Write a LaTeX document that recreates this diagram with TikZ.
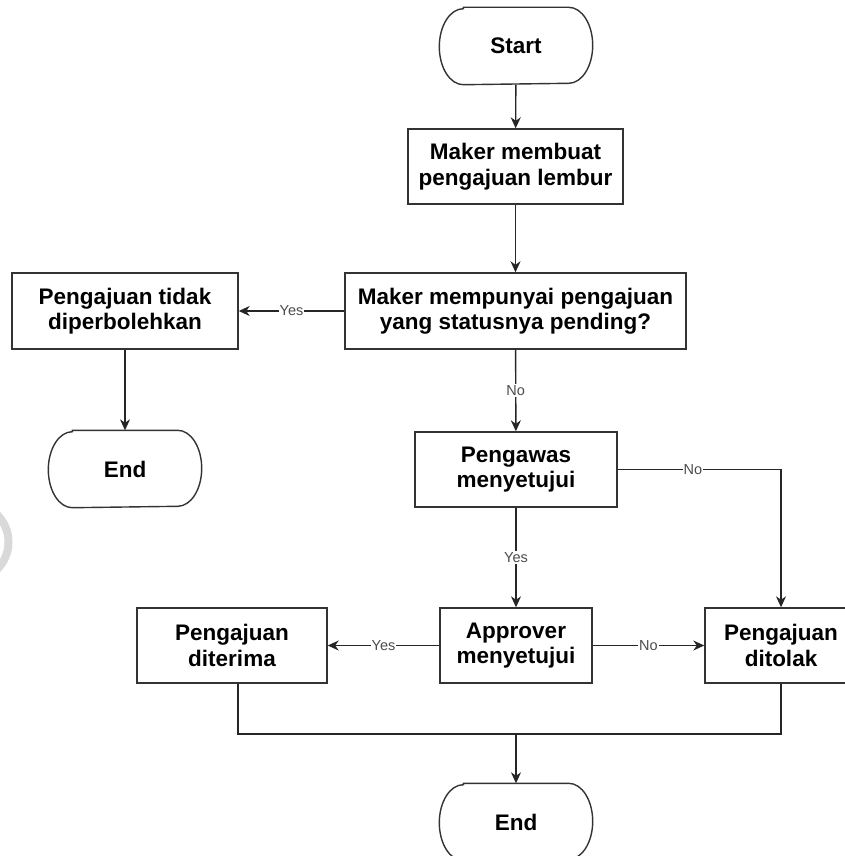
\documentclass[tikz,border=0pt]{standalone}
\usepackage{fontspec}
\setmainfont{Liberation Sans}
\usetikzlibrary{arrows.meta}

% Outline of a terminator: straight top and bottom, elliptic ends
\newcommand\termoutline[1]{%
  \draw[outline] ([xshift=24pt]#1.north west) -- ([xshift=-24pt]#1.north east)
    arc[start angle=90,end angle=-90,x radius=24pt,y radius=38pt]
    -- ([xshift=24pt]#1.south west)
    arc[start angle=270,end angle=90,x radius=24pt,y radius=38pt] -- cycle;}

\begin{document}
\begin{tikzpicture}[x=1pt,y=-1pt,
  outline/.style={draw=black!80,line width=1.4pt},
  proc/.style={outline,fill=white,align=center,inner sep=0pt,
    minimum height=75pt,font=\bfseries\fontsize{22.5}{25.5}\selectfont},
  term/.style={proc,draw=none,minimum width=152pt,minimum height=76pt},
  flow/.style={draw=black!85,line width=1.4pt,
    -{Stealth[length=11pt,width=10pt,inset=3.5pt]}},
  plain/.style={draw=black!85,line width=1.4pt},
  lbl/.style={fill=white,text=black!70,inner sep=1pt,
    font=\fontsize{14.5}{16}\selectfont}]

\useasboundingbox (0,0) rectangle (845,856);

% faint mark at the left edge
\draw[gray!30,line width=8pt] (-30,542) ++(45:38.5) arc[start angle=-45,end angle=45,radius=38.5pt];

% nodes
\node[term] (start) at (516,46) {Start};
\termoutline{start}
\node[proc,minimum width=215pt] (make) at (515.5,166.5) {Maker membuat\\pengajuan lembur};
\node[proc,minimum width=341pt,minimum height=76pt] (pend) at (515.5,311) {Maker mempunyai pengajuan\\yang statusnya pending?};
\node[proc,minimum width=226pt,minimum height=76pt] (deny) at (125,311) {Pengajuan tidak\\diperbolehkan};
\node[term] (endL) at (125,469) {End};
\termoutline{endL}
\node[proc,minimum width=202pt] (sup) at (516,469.5) {Pengawas\\menyetujui};
\node[proc,minimum width=152pt] (appr) at (516,645.5) {Approver\\menyetujui};
\node[proc,minimum width=190pt] (acc) at (232,645.5) {Pengajuan\\diterima};
\node[proc,minimum width=152pt] (rej) at (781,645.5) {Pengajuan\\ditolak};
\node[term] (endB) at (516,822) {End};
\termoutline{endB}

% connectors
\draw[flow] (start) -- (make);
\draw[flow] (make) -- (pend);
\draw[flow] (pend) -- node[lbl]{Yes} (deny);
\draw[flow] (deny) -- (endL);
\draw[flow] (pend) -- node[lbl]{No} (sup);
\draw[flow] (sup.east) -| node[lbl,pos=0.23]{No} (rej.north);
\draw[flow] (sup) -- node[lbl]{Yes} (appr);
\draw[flow] (appr) -- node[lbl]{Yes} (acc);
\draw[flow] (appr) -- node[lbl]{No} (rej);

\coordinate (merge) at (516,734);
\draw[plain] ([xshift=6pt]acc.south) |- (rej.south |- merge) -- (rej.south);
\draw[flow] (merge) -- (endB.north);
\end{tikzpicture}
\end{document}
